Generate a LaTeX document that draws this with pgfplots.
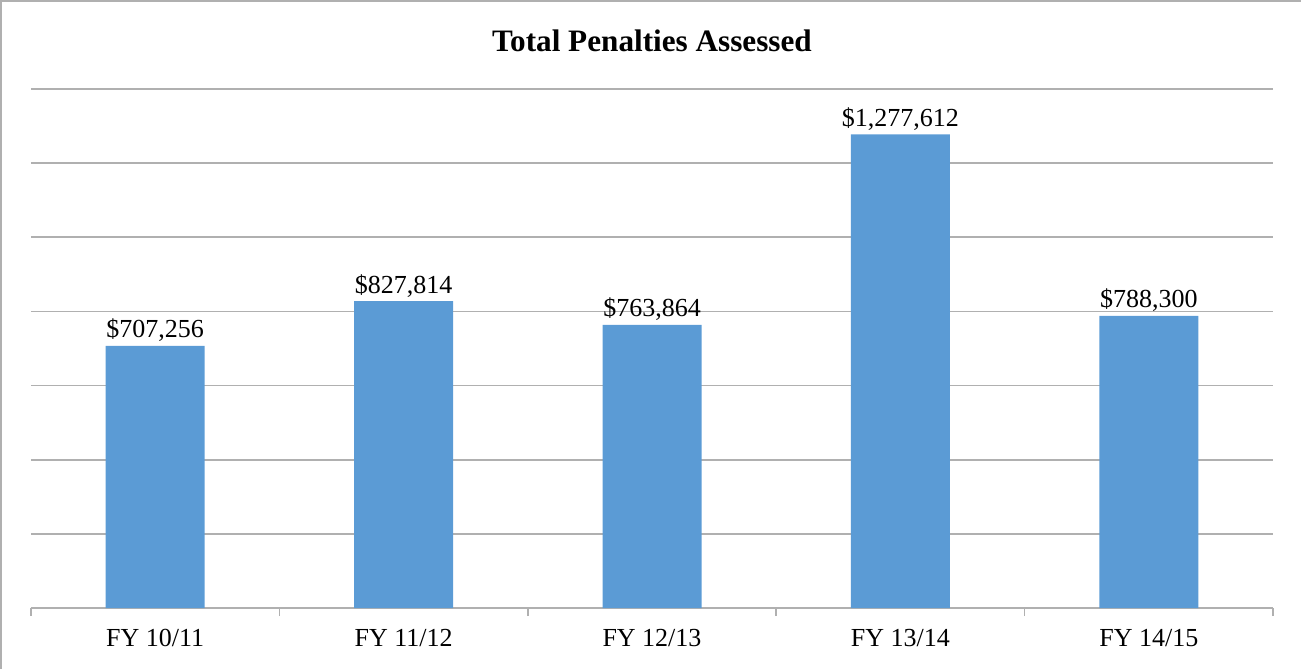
\documentclass[border=0pt]{standalone}
\usepackage{pgfplots}
\pgfplotsset{compat=1.18}
\usepackage{fontspec}
\setmainfont{Liberation Serif}
\definecolor{barblue}{HTML}{5B9BD5}
\definecolor{gridgray}{HTML}{B0B0B0}
\begin{document}
\begin{tikzpicture}
\path[use as bounding box] (-15.5pt,-30.5pt) rectangle (635pt,304pt);
\draw[gridgray, line width=1pt] (-14.75pt,-30.5pt) -- (-14.75pt,303.5pt) -- (635pt,303.5pt);
\begin{axis}[
  at={(0,0)}, anchor=south west,
  scale only axis, width=621pt, height=259.5pt,
  xmin=-0.5, xmax=4.5, ymin=0, ymax=1400000,
  ybar, bar width=49.5pt,
  axis x line*=bottom, axis y line*=left,
  y axis line style={draw=none},
  x axis line style={gridgray, line width=0.8pt},
  ytick={0,200000,...,1400000}, yticklabels={},
  scaled y ticks=false,
  major y tick style={draw=none},
  ymajorgrids, grid style={gridgray, line width=0.8pt},
  xtick={0,1,2,3,4},
  xticklabels={FY 10/11, FY 11/12, FY 12/13, FY 13/14, FY 14/15},
  major x tick style={draw=none},
  minor xtick={-0.5,0.5,1.5,2.5,3.5,4.5},
  minor x tick style={gridgray, line width=0.8pt},
  minor tick length=4pt, tick align=outside,
  xticklabel style={font=\fontsize{13}{15}\selectfont, yshift=-3pt},
  nodes near coords, point meta=explicit symbolic,
  every node near coord/.append style={font=\fontsize{13}{15}\selectfont, black, yshift=-1.5pt},
  clip=false,
]
\addplot[fill=barblue, draw=none] coordinates {
  (0,707256) [\$707,256]
  (1,827814) [\$827,814]
  (2,763864) [\$763,864]
  (3,1277612) [\$1,277,612]
  (4,788300) [\$788,300]
};
\node[font=\bfseries\fontsize{15.6}{18}\selectfont] at (rel axis cs:0.5,1) [yshift=24pt] {Total Penalties Assessed};
\end{axis}
\end{tikzpicture}
\end{document}
